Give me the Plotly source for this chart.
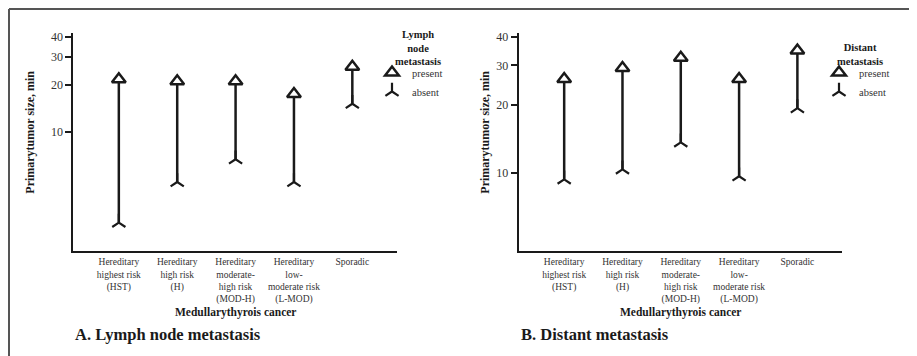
import math
import plotly.graph_objects as go

# ---------------- data ----------------
categories = ["HST", "H", "MOD-H", "L-MOD", "Sporadic"]
tick_labels = [
    "Hereditary<br>highest risk<br>(HST)",
    "Hereditary<br>high risk<br>(H)",
    "Hereditary<br>moderate-<br>high risk<br>(MOD-H)",
    "Hereditary<br>low-<br>moderate risk<br>(L-MOD)",
    "Sporadic",
]
lymph_present = [21.6, 21.0, 21.0, 17.4, 25.9]
lymph_absent = [2.65, 4.8, 6.7, 4.8, 15.1]
distant_present = [26.1, 29.2, 32.4, 26.1, 34.9]
distant_absent = [9.4, 10.4, 13.7, 9.7, 19.4]
y_ticks = [10, 20, 30, 40]

# The page body has a default 8px margin, so the figure is sized to the
# remaining window and positions below are given in window pixels.
OFF = 8
W, H = 917 - OFF, 356 - OFF
FONT = "Liberation Serif"
INK = "#1a1a1a"

fig = go.Figure()


def add_panel(xa, ya, present, absent, legend):
    xs, ys = [], []
    for c, a, p in zip(categories, absent, present):
        xs += [c, c, None]
        ys += [a, p, None]
    fig.add_trace(go.Scatter(x=xs, y=ys, mode="lines", xaxis=xa, yaxis=ya,
                             line=dict(color=INK, width=2.5), showlegend=False,
                             hoverinfo="skip"))
    fig.add_trace(go.Scatter(x=categories, y=absent, mode="markers", name="absent",
                             xaxis=xa, yaxis=ya, legend=legend,
                             marker=dict(symbol="y-up", size=11,
                                         line=dict(color=INK, width=2.2))))
    fig.add_trace(go.Scatter(x=categories, y=present, mode="markers", name="present",
                             xaxis=xa, yaxis=ya, legend=legend,
                             marker=dict(symbol="triangle-up", size=12, color="white",
                                         line=dict(color=INK, width=2.5))))


add_panel("x", "y", lymph_present, lymph_absent, "legend")
add_panel("x2", "y2", distant_present, distant_absent, "legend2")


def px_x(v):
    return (v - OFF) / W


def px_y(v):
    return 1 - (v - OFF) / H


xaxis_common = dict(
    type="category", categoryorder="array", categoryarray=categories,
    tickvals=categories, ticktext=tick_labels, ticks="", showgrid=False,
    showline=True, linewidth=2, linecolor=INK, zeroline=False, automargin=False,
    tickfont=dict(family=FONT, size=9.5, color="#333"), range=[-0.78, 4.76],
    ticklabelstandoff=1,
)
yaxis_common = dict(
    type="log", tickvals=y_ticks, ticktext=[str(v) for v in y_ticks],
    ticks="outside", ticklen=6, tickwidth=1.5, tickcolor=INK, showgrid=False,
    showline=True, linewidth=2, linecolor=INK, zeroline=False, automargin=False,
    tickfont=dict(family=FONT, size=12, color="#333"),
    domain=[px_y(251), px_y(33)],
)

legend_common = dict(
    xanchor="left", yanchor="top", bgcolor="rgba(0,0,0,0)", traceorder="reversed",
    font=dict(family=FONT, size=10.5, color="#333"), itemwidth=30, tracegroupgap=0,
)

fig.update_layout(
    width=W, height=H, margin=dict(l=0, r=0, t=0, b=0, autoexpand=False),
    paper_bgcolor="white", plot_bgcolor="white",
    font=dict(family=FONT, color=INK),
    xaxis=dict(xaxis_common, domain=[px_x(73.3), px_x(396.7)], anchor="y"),
    yaxis=dict(yaxis_common, range=[math.log10(1.75), math.log10(42.5)], anchor="x"),
    xaxis2=dict(xaxis_common, domain=[px_x(518.7), px_x(841.7)], anchor="y2"),
    yaxis2=dict(yaxis_common, range=[math.log10(4.53), math.log10(41.7)], anchor="x2"),
    legend=dict(legend_common, x=px_x(372), y=px_y(58)),
    legend2=dict(legend_common, x=px_x(819), y=px_y(58)),
    showlegend=True,
)

annos = [
    # legend headings
    dict(x=px_x(418), y=px_y(27), text="<b>Lymph<br>node<br>metastasis</b>",
         yanchor="top", font=dict(size=10.5)),
    dict(x=px_x(860), y=px_y(40), text="<b>Distant<br>metastasis</b>",
         yanchor="top", font=dict(size=10.5)),
    # axis titles
    dict(x=px_x(235), y=px_y(312.7), text="<b>Medullarythyrois cancer</b>",
         font=dict(size=11.5)),
    dict(x=px_x(680.2), y=px_y(312.7), text="<b>Medullarythyrois cancer</b>",
         font=dict(size=11.5)),
    dict(x=px_x(30), y=px_y(132.7), text="<b>Primarytumor size, min</b>",
         textangle=-90, font=dict(size=12)),
    dict(x=px_x(485), y=px_y(132.7), text="<b>Primarytumor size, min</b>",
         textangle=-90, font=dict(size=12)),
    # panel captions
    dict(x=px_x(73), y=px_y(334.5), text="<b>A. Lymph node metastasis</b>",
         xanchor="left", font=dict(size=16.5)),
    dict(x=px_x(519), y=px_y(334.5), text="<b>B. Distant metastasis</b>",
         xanchor="left", font=dict(size=16.5)),
]
for a in annos:
    a.setdefault("xanchor", "center")
    a.setdefault("yanchor", "middle")
    fig.add_annotation(xref="paper", yref="paper", showarrow=False, align="center",
                       font_family=FONT, font_color=INK, **a)

# partial outer frame (top and left edges), as close to the corner as the page allows
fig.add_shape(type="line", xref="paper", yref="paper", x0=px_x(9), x1=1,
              y0=px_y(9), y1=px_y(9), line=dict(color="#555", width=2))
fig.add_shape(type="line", xref="paper", yref="paper", x0=px_x(9), x1=px_x(9),
              y0=0, y1=px_y(9), line=dict(color="#555", width=2))

fig.write_html("out.html")
